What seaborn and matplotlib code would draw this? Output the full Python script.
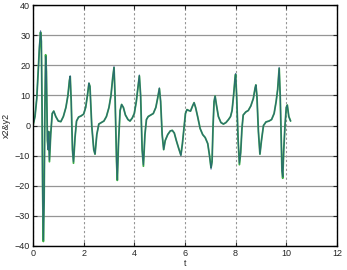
import matplotlib
matplotlib.use("Agg")
import matplotlib.pyplot as plt
import pandas as pd
import seaborn as sns

# values
t = [0.00, 0.08, 0.15, 0.22, 0.25, 0.30, 0.33, 0.36, 0.38, 0.41, 0.44, 0.47, 0.50,
     0.53, 0.57, 0.60, 0.62, 0.65, 0.70, 0.76, 0.82, 0.90, 1.00, 1.10, 1.20, 1.30,
     1.38, 1.44, 1.47, 1.51, 1.56, 1.60, 1.66, 1.72, 1.80, 1.90, 2.00, 2.08, 2.15,
     2.21, 2.25, 2.32, 2.40, 2.45, 2.52, 2.60, 2.70, 2.80, 2.90, 3.00, 3.08, 3.15,
     3.20, 3.24, 3.30, 3.33, 3.38, 3.44, 3.50, 3.57, 3.65, 3.75, 3.83, 3.92, 4.00,
     4.08, 4.15, 4.20, 4.25, 4.31, 4.36, 4.42, 4.48, 4.55, 4.65, 4.75, 4.85, 4.92,
     4.99, 5.04, 5.10, 5.16, 5.22, 5.32, 5.42, 5.50, 5.58, 5.66, 5.75, 5.84, 5.90,
     5.96, 6.02, 6.08, 6.15, 6.22, 6.30, 6.36, 6.42, 6.50, 6.60, 6.70, 6.80, 6.90,
     6.97, 7.03, 7.07, 7.11, 7.15, 7.19, 7.24, 7.32, 7.42, 7.52, 7.62, 7.72, 7.80,
     7.86, 7.92, 7.97, 8.00, 8.04, 8.10, 8.15, 8.20, 8.25, 8.30, 8.40, 8.50, 8.60,
     8.70, 8.77, 8.80, 8.84, 8.90, 8.96, 9.02, 9.10, 9.20, 9.32, 9.42, 9.52, 9.60,
     9.66, 9.72, 9.76, 9.80, 9.83, 9.86, 9.90, 9.95, 10.00, 10.04, 10.10, 10.17]
x2 = [0, 3, 9, 20, 25, 31, 28, 5, -20, -38.5, -25, 5, 23.5,
      18, -5, -8, -2, -12, -3, 4, 4.8, 3, 1.5, 1.3, 3, 6,
      10, 15, 16.3, 8, -8, -12.5, -4, 1.5, 2.8, 3.2, 3.8, 6, 10,
      14, 13, 0, -8, -9.5, -3, 0.5, 1, 1.5, 3, 6, 10, 16,
      19.2, 10, -12, -18.2, -5, 5, 7, 6, 3.5, 2, 1.5, 2.5, 4,
      8, 13, 16.5, 10, -8, -13.5, -3, 2, 3, 3.5, 4, 6, 9,
      12.3, 8, -3, -8, -5, -3, -1.8, -1.6, -2.5, -5, -7.5, -9.8, -6,
      -1, 4, 5.3, 5, 4.8, 6.5, 7.6, 6, 3, -1, -3, -4, -6,
      -10, -14, -12, 0, 8, 9.8, 7, 3, 1, 0.5, 1, 2, 3,
      5, 10, 15, 17, 10, -5, -13, -9, -1, 3.5, 4.5, 5, 6.5,
      9, 12.5, 13.5, 10, -2, -9.5, -5, 0, 1.2, 1.5, 2, 4, 8,
      12, 19, 10, -5, -15, -17.5, -8, 0, 6, 6.8, 3, 1.5]
y2 = [0, 3, 9, 20, 26, 31.5, 28, 5, -20, -38, -25, 5, 23,
      18, -5, -8, -2, -11.5, -3, 4, 4.8, 3, 1.5, 1.3, 3, 6,
      10, 15, 16.5, 8, -8, -12, -4, 1.5, 2.8, 3.2, 3.8, 6, 10,
      14.2, 13, 0, -8, -9.5, -3, 0.5, 1, 1.5, 3, 6, 10, 16,
      19.6, 10, -12, -18, -5, 5, 7, 6, 3.5, 2, 1.5, 2.5, 4,
      8, 13, 16.8, 10, -8, -13, -3, 2, 3, 3.5, 4, 6, 9,
      12.5, 8, -3, -8, -5, -3, -1.8, -1.6, -2.5, -5, -7.5, -10, -6,
      -1, 4, 5.3, 5, 4.8, 6.5, 7.6, 6, 3, -1, -3, -4, -6,
      -10, -14.5, -12, 0, 8, 9.8, 7, 3, 1, 0.5, 1, 2, 3,
      5, 10, 15, 17.3, 10, -5, -12.5, -9, -1, 3.5, 4.5, 5, 6.5,
      9, 12.5, 13.5, 10, -2, -9.5, -5, 0, 1.2, 1.5, 2, 4, 8,
      12, 19.3, 10, -5, -15, -17, -8, 0, 6, 6.8, 3, 1.5]

x_ticks = [0, 2, 4, 6, 8, 10, 12]
y_ticks = [-40, -30, -20, -10, 0, 10, 20, 30, 40]

df = pd.DataFrame({"t": t, "x2": x2, "y2": y2})

sns.set_style("white")
plt.rcParams["font.family"] = ["Liberation Sans", "DejaVu Sans"]

fig = plt.figure(figsize=(3.47, 2.70), dpi=100)
ax = fig.add_axes([0.095, 0.089, 0.876, 0.892])

sns.lineplot(data=df, x="t", y="x2", color="#3cb043", lw=1.3, estimator=None, ax=ax)
sns.lineplot(data=df, x="t", y="y2", color="#1f3f8f", lw=0.9, alpha=0.6, estimator=None, ax=ax)

ax.set_xlim(0, 12)
ax.set_ylim(-40, 40)
ax.set_xticks(x_ticks)
ax.set_yticks(y_ticks)
ax.tick_params(direction="in", length=3, width=0.8, labelsize=6.5, pad=2,
               top=True, right=True, bottom=True, left=True)

# horizontal grid solid, vertical grid dashed
ax.yaxis.grid(True, color="#959595", lw=0.9, ls="-")
ax.xaxis.grid(True, color="#959595", lw=0.8, ls=(0, (2, 2)))
ax.set_axisbelow(True)

for s in ax.spines.values():
    s.set_color("black")
    s.set_linewidth(1.0)

ax.set_xlabel("t", fontsize=6.5, labelpad=1)
ax.set_ylabel("x2&y2", fontsize=6.5, labelpad=3)

fig.savefig("out.png", dpi=100)
